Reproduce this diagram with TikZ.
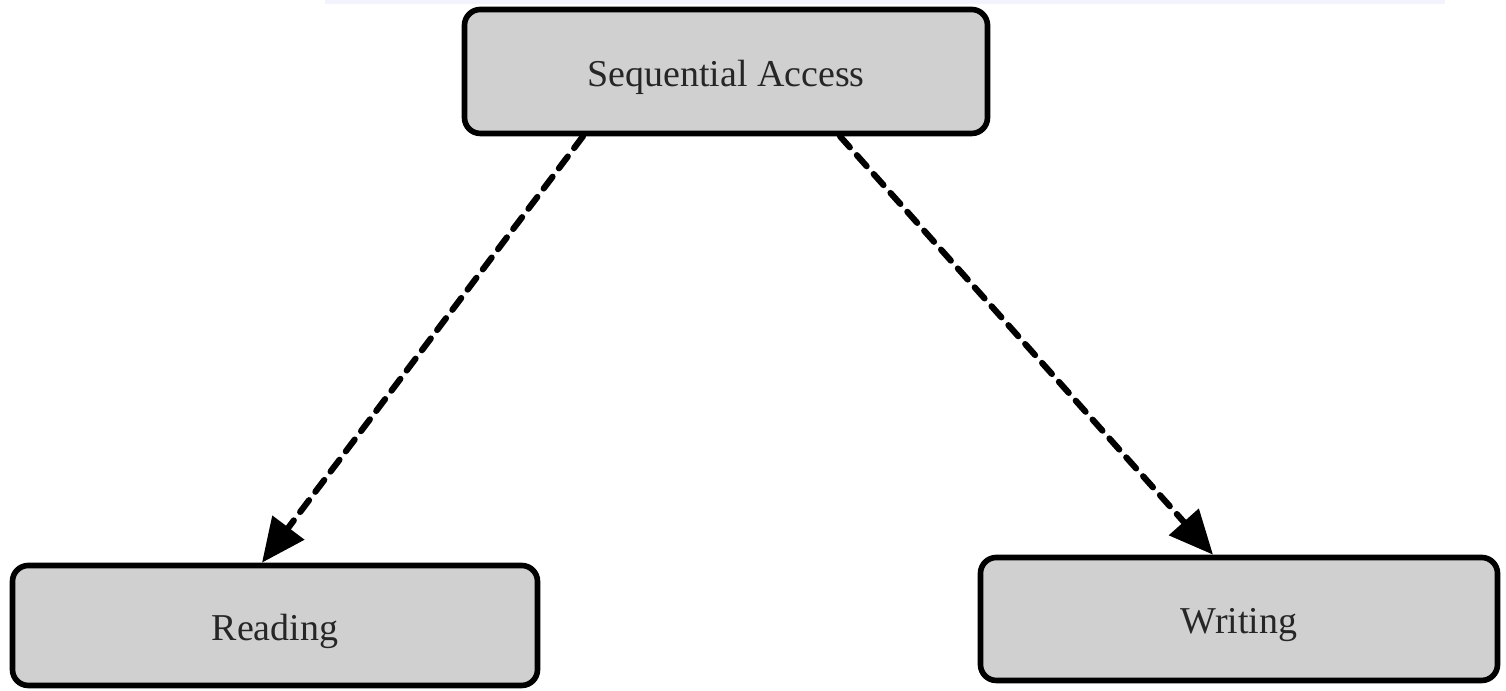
\documentclass[tikz,border=0pt]{standalone}
\usepackage{fontspec}
\setmainfont{Liberation Serif}
\usetikzlibrary{arrows.meta}
\definecolor{boxfill}{HTML}{D0D0D0}
\definecolor{stripcol}{HTML}{F3F3FE}
\newcommand{\lowertext}[1]{\raisebox{-0.06cm}[\height][\depth]{#1}}
\tikzset{
  box/.style={draw=black, line width=1.6pt, fill=boxfill, rounded corners=4.5pt,
    inner sep=0pt, font=\fontsize{10.8}{12}\selectfont, text=black!85},
  arr/.style={line width=1.75pt, dash pattern=on 4.2pt off 3.0pt, line cap=round,
    -{Triangle[length=12.5pt,width=11pt,line cap=butt]}}
}
\begin{document}
\begin{tikzpicture}
\useasboundingbox (0,0) rectangle (15.06,6.91);
\fill[stripcol] (3.25,6.87) rectangle (14.45,6.91);
\node[box, minimum width=5.23cm, minimum height=1.24cm] (top) at (7.26,6.195) {\lowertext{Sequential Access}};
\node[box, minimum width=5.25cm, minimum height=1.20cm] (read) at (2.75,0.655) {\lowertext{Reading}};
\node[box, minimum width=5.17cm, minimum height=1.23cm] (write) at (12.39,0.72) {\lowertext{Writing}};
\draw[arr] ([xshift=-1.43cm]top.south) -- ([xshift=-0.13cm]read.north);
\draw[arr] ([xshift=1.14cm]top.south) -- ([xshift=-0.26cm]write.north);
\end{tikzpicture}
\end{document}
